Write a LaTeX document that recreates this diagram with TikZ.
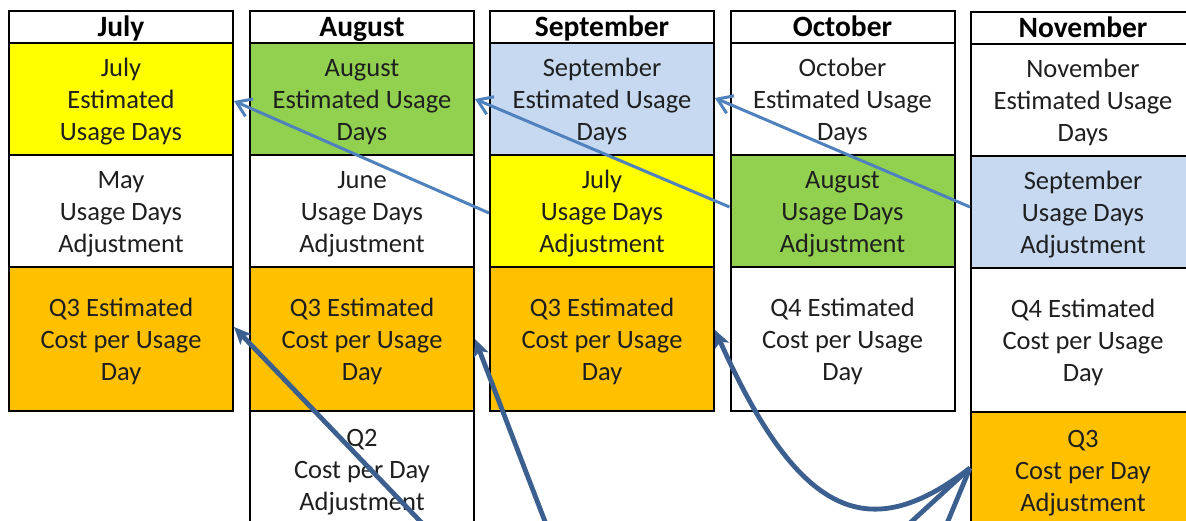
\documentclass[tikz,border=0pt]{standalone}
\usepackage{fontspec}
\setmainfont{Carlito}
\usetikzlibrary{arrows.meta}
\definecolor{yel}{HTML}{FFFF00}
\definecolor{grn}{HTML}{92D050}
\definecolor{lbl}{HTML}{C6D9F1}
\definecolor{org}{HTML}{FFC000}
\definecolor{arrL}{HTML}{4F81BD}
\definecolor{arrD}{HTML}{3B5F8E}
\begin{document}
\begin{tikzpicture}[x=1pt,y=-1pt,
  cell/.style={draw=black, line width=2pt, minimum width=224pt, align=center, inner sep=0pt,
    font=\fontsize{26.5}{32}\selectfont, text=black!88, text height=89pt, text depth=6pt},
  hdr/.style={draw=black, line width=2pt, minimum width=224pt, inner sep=0pt, minimum height=32pt,
    text height=22pt, text depth=2pt, font=\bfseries\fontsize{29.5}{30}\selectfont, text=black},
  rowa/.style={cell, minimum height=112pt},
  rowc/.style={cell, minimum height=144pt},
  rowd/.style={cell, minimum height=116pt},
  lightarrow/.style={draw=arrL, line width=3pt, -{Straight Barb[length=14pt,width=19pt]}},
  darkarrow/.style={draw=arrD, line width=4.8pt, -{Stealth[length=17pt,width=15pt,inset=4pt]}}
]
\useasboundingbox (0,0) rectangle (1186,521);
\clip (0,0) rectangle (1186,521);
\fill[white] (0,0) rectangle (1186,521);
% July
\node[hdr] (jh) at (121,27) {July};
\node[rowa, fill=yel] (j1) at (121,99) {July\\Estimated\\Usage Days};
\node[rowa, fill=white] (j2) at (121,211) {May\\Usage Days\\Adjustment};
\node[rowc, fill=org] (j3) at (121,339) {Q3 Estimated\\Cost per Usage\\Day};
% August
\node[hdr] (ah) at (362,27) {August};
\node[rowa, fill=grn] (a1) at (362,99) {August\\Estimated Usage\\Days};
\node[rowa, fill=white] (a2) at (362,211) {June\\Usage Days\\Adjustment};
\node[rowc, fill=org] (a3) at (362,339) {Q3 Estimated\\Cost per Usage\\Day};
\node[rowd, fill=white] (a4) at (362,469) {Q2\\Cost per Day\\Adjustment};
% September
\node[hdr] (sh) at (602,27) {September};
\node[rowa, fill=lbl] (s1) at (602,99) {September\\Estimated Usage\\Days};
\node[rowa, fill=yel] (s2) at (602,211) {July\\Usage Days\\Adjustment};
\node[rowc, fill=org] (s3) at (602,339) {Q3 Estimated\\Cost per Usage\\Day};
% October
\node[hdr] (oh) at (842.5,27) {October};
\node[rowa, fill=white] (o1) at (842.5,99) {October\\Estimated Usage\\Days};
\node[rowa, fill=grn] (o2) at (842.5,211) {August\\Usage Days\\Adjustment};
\node[rowc, fill=white] (o3) at (842.5,339) {Q4 Estimated\\Cost per Usage\\Day};
% November
\node[hdr] (nh) at (1083,28) {November};
\node[rowa, fill=white] (n1) at (1083,100) {November\\Estimated Usage\\Days};
\node[rowa, fill=lbl] (n2) at (1083,212) {September\\Usage Days\\Adjustment};
\node[rowc, fill=white] (n3) at (1083,340) {Q4 Estimated\\Cost per Usage\\Day};
\node[rowd, fill=org] (n4) at (1083,470) {Q3\\Cost per Day\\Adjustment};
% light arrows
\draw[lightarrow] ([yshift=-2pt]s2.west) -- ([yshift=-2pt]j1.east);
\draw[lightarrow] ([yshift=4pt]o2.west) -- (a1.east);
\draw[lightarrow] ([yshift=5pt]n2.west) -- ([yshift=1pt]s1.east);
% dark arrows
\draw[darkarrow] ([yshift=2pt]n4.west) -- (886,545) -- (443,545) -- ([yshift=12pt]j3.east);
\draw[darkarrow] ([yshift=2pt]n4.west) -- (938,545) -- (554,545) -- (a3.east);
\draw[darkarrow] ([yshift=2pt]n4.west) .. controls (870,545) and (800,520) .. ([yshift=9pt]s3.east);
\end{tikzpicture}
\end{document}
